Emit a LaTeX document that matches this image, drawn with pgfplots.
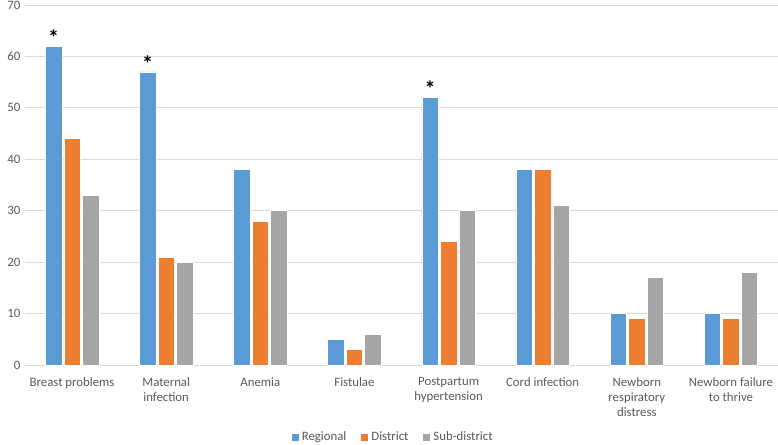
\documentclass[border=0pt]{standalone}
\usepackage{pgfplots}
\pgfplotsset{compat=1.18}
\usepackage{fontspec}
\setmainfont{Carlito}
\definecolor{cRegional}{HTML}{5B9BD5}
\definecolor{cDistrict}{HTML}{ED7D31}
\definecolor{cSub}{HTML}{A5A5A5}
\definecolor{cGrid}{HTML}{D9D9D9}
\definecolor{cText}{HTML}{595959}
\begin{document}
\begin{tikzpicture}
\begin{axis}[
  name=ax,
  scale only axis,
  width=753pt, height=360pt,
  ybar, bar width=16.5pt,
  xmin=-0.5, xmax=7.5,
  ymin=0, ymax=70,
  ytick={0,10,...,70},
  xtick=data,
  xticklabels={Breast problems, Maternal\\infection, Anemia, Fistulae,
    Postpartum\\hypertension, Cord infection, Newborn\\respiratory\\distress,
    Newborn failure\\to thrive},
  xticklabel style={align=center, font=\fontsize{12.8}{15}\selectfont, text=cText, yshift=-9pt},
  yticklabel style={font=\fontsize{12.8}{15}\selectfont, text=cText, xshift=-1pt},
  /pgf/number format/assume math mode=true,
  axis line style={draw=none},
  major tick length=0pt,
  ymajorgrids,
  major grid style={cGrid, line width=0.8pt},
  every axis plot/.append style={draw=white, line width=0.6pt},
  legend style={at={(0.489,-0.2)}, anchor=center, draw=none,
    legend columns=-1, font=\fontsize{12.8}{15}\selectfont, text=cText,
    /tikz/every odd column/.append style={column sep=1pt},
    /tikz/every even column/.append style={column sep=13pt}},
  legend image code/.code={\fill[#1, draw=none] (0pt,-3.5pt) rectangle (7pt,3.5pt);},
]
\addplot[fill=cRegional, point meta=explicit symbolic,
  nodes near coords, every node near coord/.append style={text=black, font=\fontsize{22}{22}\selectfont\bfseries, anchor=south, yshift=-3pt}]
  coordinates {(0,62)[*] (1,57)[*] (2,38)[] (3,5)[] (4,52)[*] (5,38)[] (6,10)[] (7,10)[]};
\addplot[fill=cDistrict]
  coordinates {(0,44) (1,21) (2,28) (3,3) (4,24) (5,38) (6,9) (7,9)};
\addplot[fill=cSub]
  coordinates {(0,33) (1,20) (2,30) (3,6) (4,30) (5,31) (6,17) (7,18)};
\legend{Regional, District, Sub-district}
\end{axis}
\pgfresetboundingbox
\path[use as bounding box] ([shift={(-25pt,-79pt)}]ax.south west) rectangle ([shift={(0pt,5pt)}]ax.north east);
\end{tikzpicture}
\end{document}
